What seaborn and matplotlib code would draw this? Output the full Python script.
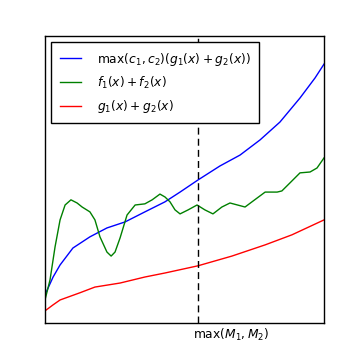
import pandas as pd
import matplotlib
matplotlib.use("Agg")
import matplotlib.pyplot as plt
import matplotlib.transforms as mtransforms
import seaborn as sns

# values (x and y on a 0..10 scale)
blue_x = [0.0, 0.29, 0.54, 1.0, 1.61, 2.22, 2.87, 3.58, 4.30, 4.84, 5.48, 6.27, 6.99, 7.71, 8.42, 9.14, 9.68, 10.0]
blue_y = [0.98, 1.60, 2.02, 2.61, 3.00, 3.31, 3.52, 3.87, 4.22, 4.56, 4.98, 5.47, 5.85, 6.38, 7.00, 7.84, 8.54, 9.02]

red_x = [0.0, 0.29, 0.54, 1.25, 1.79, 2.69, 3.58, 4.30, 5.48, 6.70, 7.89, 8.85, 10.0]
red_y = [0.42, 0.63, 0.80, 1.05, 1.25, 1.39, 1.60, 1.74, 1.99, 2.33, 2.72, 3.07, 3.59]

green_x = [0.0, 0.18, 0.36, 0.54, 0.72, 0.93, 1.15, 1.33, 1.61, 1.79, 1.97, 2.22, 2.37, 2.51,
           2.69, 2.94, 3.23, 3.58, 3.84, 4.12, 4.30, 4.48, 4.66, 4.84, 5.13, 5.45, 5.73, 6.02,
           6.34, 6.63, 7.17, 7.46, 7.89, 8.32, 8.49, 8.78, 9.14, 9.50, 9.75, 10.0]
green_y = [0.80, 1.50, 2.65, 3.59, 4.11, 4.29, 4.18, 4.04, 3.87, 3.59, 3.00, 2.47, 2.33, 2.47,
           2.96, 3.76, 4.11, 4.15, 4.29, 4.49, 4.39, 4.22, 3.94, 3.80, 3.94, 4.11, 3.94, 3.80,
           4.04, 4.18, 4.04, 4.25, 4.56, 4.56, 4.60, 4.88, 5.23, 5.26, 5.40, 5.75]

m_pos = 5.48
tick_label = r'$\max(M_1,M_2)$'
labels = [r'$\max(c_1,c_2)(g_1(x)+g_2(x))$', r'$f_1(x)+f_2(x)$', r'$g_1(x)+g_2(x)$']

fig = plt.figure(figsize=(3.6, 3.6), dpi=100)
ax = fig.add_axes([0.125, 0.103, 0.775, 0.797])

blue = pd.DataFrame({'x': blue_x, 'y': blue_y})
green = pd.DataFrame({'x': green_x, 'y': green_y})
red = pd.DataFrame({'x': red_x, 'y': red_y})

sns.lineplot(data=blue, x='x', y='y', color='#0000ff', lw=1, estimator=None, label=labels[0], ax=ax)
sns.lineplot(data=green, x='x', y='y', color='#008000', lw=1, estimator=None, label=labels[1], ax=ax)
sns.lineplot(data=red, x='x', y='y', color='#ff0000', lw=1, estimator=None, label=labels[2], ax=ax)

ax.axvline(m_pos, color='black', lw=1, dashes=(5, 3))

ax.set_xlim(0, 10)
ax.set_ylim(0, 10)
ax.set_yticks([])
ax.set_xticks([m_pos])
ax.tick_params(axis='x', length=0, pad=3)
ax.set_xticklabels([tick_label], fontsize=8.8, ha='left')
# label sits a little left of the tick, not centred on it
shift = mtransforms.ScaledTranslation(-5 / 100, 0, fig.dpi_scale_trans)
for t in ax.get_xticklabels():
    t.set_transform(t.get_transform() + shift)
ax.set_xlabel('')
ax.set_ylabel('')
for s in ax.spines.values():
    s.set_color('black')
    s.set_linewidth(1)

leg = ax.legend(loc='upper left', fontsize=8.8, fancybox=False, framealpha=1,
                handlelength=1.72, handletextpad=1.3, labelspacing=0.58, borderpad=0.7)
leg.get_frame().set_edgecolor('black')
leg.get_frame().set_linewidth(1)

fig.savefig('out.png', dpi=100)
